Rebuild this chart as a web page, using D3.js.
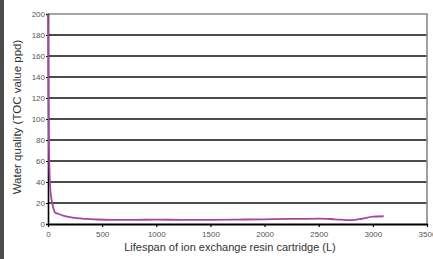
<!DOCTYPE html>
<html>
<head>
<meta charset="utf-8">
<script src="https://cdn.jsdelivr.net/npm/d3@7"></script>
<style>
  body { margin: 0; background: #fff; }
  svg { display: block; font-family: "Liberation Sans", Arial, sans-serif; }
</style>
</head>
<body>
<div id="viz"></div>
<script>
// Datos: litros vs. valor TOC
let litros = [0, 4, 8, 14, 22, 35, 50, 65, 100, 140, 200, 265, 350, 450, 600, 800, 1000, 1250, 1500, 1750, 2000, 2250, 2500, 2650, 2800, 2900, 3000, 3100];
let toc    = [200, 130, 80, 50, 32, 22, 15, 11, 9.5, 8, 6.5, 5.5, 4.8, 4.3, 4, 4, 4.1, 4, 4, 4.2, 4.5, 4.8, 5.2, 4.5, 3.6, 5, 7, 7.4];
let ticksX = [0, 500, 1000, 1500, 2000, 2500, 3000, 3500];
let ticksY = [0, 20, 40, 60, 80, 100, 120, 140, 160, 180, 200];

let w = 433, h = 259;
let m = { left: 48, right: 6, top: 14, bottom: 35 };

let svg = d3.select('#viz').append('svg')
    .attr('width', w)
    .attr('height', h);

// franja oscura a la izquierda
svg.append('rect')
    .attr('x', 0).attr('y', 0)
    .attr('width', 4).attr('height', h)
    .attr('fill', '#4d4d4d');

let x = d3.scaleLinear().domain([0, 3500]).range([m.left, w - m.right]);
let y = d3.scaleLinear().domain([0, 200]).range([h - m.bottom, m.top]);

// líneas de la grilla
svg.append('g')
    .selectAll('line')
    .data(ticksY.filter(d => d > 0 && d < 200))
    .enter().append('line')
        .attr('x1', x(0)).attr('x2', x(3500))
        .attr('y1', d => y(d)).attr('y2', d => y(d))
        .attr('stroke', '#111')
        .attr('stroke-width', 1.3);

// borde superior y derecho
svg.append('path')
    .attr('d', `M${x(0)},${y(200)}H${x(3500)}V${y(0)}`)
    .attr('fill', 'none')
    .attr('stroke', '#888')
    .attr('stroke-width', 1.6);

// Eje Y
let ejeY = svg.append('g')
    .attr('transform', `translate(${x(0)},0)`)
    .call(d3.axisLeft(y).tickValues(ticksY).tickSize(2).tickPadding(1).tickFormat(d3.format('d')));
ejeY.select('.domain').attr('stroke', '#000').attr('stroke-width', 1.6);
ejeY.selectAll('.tick line').attr('stroke', '#000');
ejeY.selectAll('.tick text')
    .attr('fill', '#555')
    .style('font-size', '8px')
    .style('font-family', '"Liberation Sans", Arial, sans-serif');

// Eje X
let ejeX = svg.append('g')
    .attr('transform', `translate(0,${y(0)})`)
    .call(d3.axisBottom(x).tickValues(ticksX).tickSize(3).tickSizeOuter(0).tickPadding(4).tickFormat(d3.format('d')));
ejeX.select('.domain').attr('stroke', '#000').attr('stroke-width', 2);
ejeX.selectAll('.tick line').attr('stroke', '#000').attr('stroke-width', 1.2);
ejeX.selectAll('.tick text')
    .attr('fill', '#555')
    .style('font-size', '8px')
    .style('font-family', '"Liberation Sans", Arial, sans-serif');

// Línea de datos
let datos = litros.map((d, i) => ({ L: d, v: toc[i] }));
svg.append('path')
    .datum(datos)
    .attr('fill', 'none')
    .attr('stroke', '#a4479f')
    .attr('stroke-width', 1.8)
    .attr('d', d3.line().x(d => x(d.L)).y(d => y(d.v)).curve(d3.curveMonotoneX));

// Títulos de ejes
svg.append('text')
    .attr('x', 230)
    .attr('y', 251)
    .attr('text-anchor', 'middle')
    .attr('fill', '#333')
    .style('font-size', '11px')
    .text('Lifespan of ion exchange resin cartridge (L)');

svg.append('text')
    .attr('transform', `translate(21,${y(100) - 2}) rotate(-90)`)
    .attr('text-anchor', 'middle')
    .attr('fill', '#333')
    .style('font-size', '11.5px')
    .text('Water quality (TOC value ppd)');
</script>
</body>
</html>
